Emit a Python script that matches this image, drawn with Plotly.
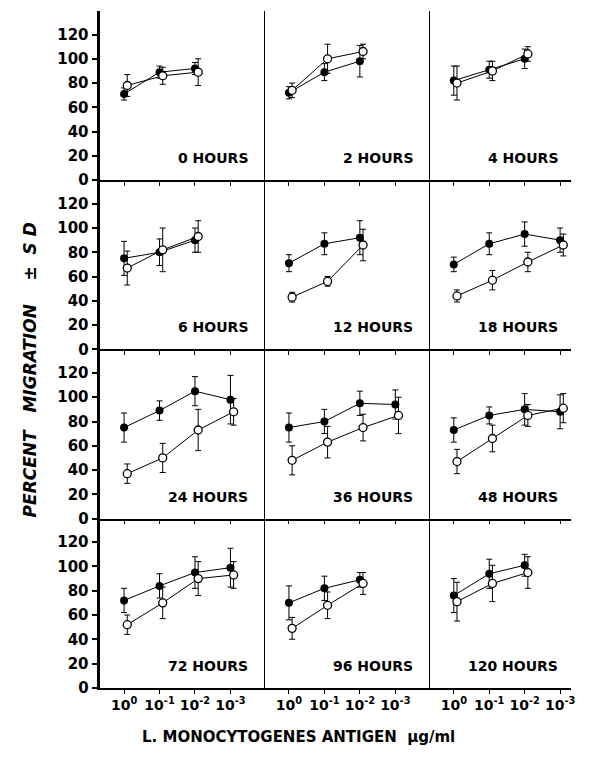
import plotly.graph_objects as go
from plotly.subplots import make_subplots

# ---------------- data ----------------
dose_positions = [0, 1, 2, 3]
dose_labels = ["10<sup>0</sup>", "10<sup>-1</sup>", "10<sup>-2</sup>", "10<sup>-3</sup>"]
y_ticks = [0, 20, 40, 60, 80, 100, 120]

panel_titles = ["0 HOURS", "2 HOURS", "4 HOURS",
                "6 HOURS", "12 HOURS", "18 HOURS",
                "24 HOURS", "36 HOURS", "48 HOURS",
                "72 HOURS", "96 HOURS", "120 HOURS"]

h0_filled = [71, 89, 92];        h0_filled_sd = [5, 5, 5]
h0_open = [78, 86, 89];          h0_open_sd = [9, 7, 11]
h2_filled = [72, 89, 98];        h2_filled_sd = [5, 7, 13]
h2_open = [74, 100, 106];        h2_open_sd = [6, 12, 6]
h4_filled = [82, 91, 100];       h4_filled_sd = [12, 7, 8]
h4_open = [80, 90, 104];         h4_open_sd = [14, 8, 6]
h6_filled = [75, 80, 90];        h6_filled_sd = [14, 11, 10]
h6_open = [67, 82, 93];          h6_open_sd = [14, 18, 13]
h12_filled = [71, 87, 92];       h12_filled_sd = [7, 9, 14]
h12_open = [43, 56, 86];         h12_open_sd = [4, 4, 13]
h18_filled = [70, 87, 95, 90];   h18_filled_sd = [6, 9, 10, 10]
h18_open = [44, 57, 72, 86];     h18_open_sd = [5, 8, 8, 9]
h24_filled = [75, 89, 105, 98];  h24_filled_sd = [12, 8, 12, 20]
h24_open = [37, 50, 73, 88];     h24_open_sd = [8, 12, 17, 11]
h36_filled = [75, 80, 95, 94];   h36_filled_sd = [12, 10, 10, 12]
h36_open = [48, 63, 75, 85];     h36_open_sd = [12, 13, 11, 15]
h48_filled = [73, 85, 90, 88];   h48_filled_sd = [10, 7, 13, 14]
h48_open = [47, 66, 85, 91];     h48_open_sd = [10, 11, 9, 12]
h72_filled = [72, 84, 95, 99];   h72_filled_sd = [10, 10, 13, 16]
h72_open = [52, 70, 90, 93];     h72_open_sd = [8, 13, 14, 11]
h96_filled = [70, 82, 89];       h96_filled_sd = [14, 10, 6]
h96_open = [49, 68, 86];         h96_open_sd = [9, 11, 9]
h120_filled = [76, 94, 101];     h120_filled_sd = [14, 12, 9]
h120_open = [71, 86, 95];        h120_open_sd = [16, 15, 13]

panels = [
    (h0_filled, h0_filled_sd, h0_open, h0_open_sd),
    (h2_filled, h2_filled_sd, h2_open, h2_open_sd),
    (h4_filled, h4_filled_sd, h4_open, h4_open_sd),
    (h6_filled, h6_filled_sd, h6_open, h6_open_sd),
    (h12_filled, h12_filled_sd, h12_open, h12_open_sd),
    (h18_filled, h18_filled_sd, h18_open, h18_open_sd),
    (h24_filled, h24_filled_sd, h24_open, h24_open_sd),
    (h36_filled, h36_filled_sd, h36_open, h36_open_sd),
    (h48_filled, h48_filled_sd, h48_open, h48_open_sd),
    (h72_filled, h72_filled_sd, h72_open, h72_open_sd),
    (h96_filled, h96_filled_sd, h96_open, h96_open_sd),
    (h120_filled, h120_filled_sd, h120_open, h120_open_sd),
]

# ---------------- layout geometry (pixels) ----------------
W, H = 589, 762
col_px = [(101, 267), (267, 433), (433, 575)]
row_top = 11.0
row_h = 171.25
x_ranges = [[-0.67, 3.98], [-0.67, 3.98], [-0.67, 3.31]]
y_range = [0, 139.5]
open_offset = 0.09
label_xfrac = [0.91, 0.91, 0.923]

FONT = "DejaVu Sans"

fig = make_subplots(rows=4, cols=3, horizontal_spacing=0, vertical_spacing=0)

for i, (fm, fs, om, osd) in enumerate(panels):
    r, c = i // 3 + 1, i % 3 + 1
    n = len(fm)
    xf = dose_positions[:n]
    xo = [p + open_offset for p in dose_positions[:n]]
    fig.add_trace(go.Scatter(
        x=xf, y=fm, mode="lines+markers",
        line=dict(color="black", width=1),
        marker=dict(symbol="circle", size=8, color="black"),
        error_y=dict(type="data", array=fs, visible=True, color="black",
                     thickness=1, width=3),
        showlegend=False, hoverinfo="skip"), row=r, col=c)
    fig.add_trace(go.Scatter(
        x=xo, y=om, mode="lines+markers",
        line=dict(color="black", width=1),
        marker=dict(symbol="circle", size=8, color="white",
                    line=dict(color="black", width=1.3)),
        error_y=dict(type="data", array=osd, visible=True, color="black",
                     thickness=1, width=3),
        showlegend=False, hoverinfo="skip"), row=r, col=c)

    x0p, x1p = col_px[c - 1]
    top = row_top + row_h * (r - 1)
    bot = top + row_h
    fig.update_xaxes(
        domain=[x0p / W, x1p / W], range=x_ranges[c - 1],
        tickvals=dose_positions, ticktext=dose_labels,
        showticklabels=(r == 4), ticks="outside", ticklen=4, tickwidth=1,
        tickcolor="black", showline=True, linecolor="black", linewidth=1.5,
        showgrid=False, zeroline=False,
        tickfont=dict(family=FONT, size=14, color="black", weight="bold"),
        row=r, col=c)
    if c == 1:
        fig.update_yaxes(
            domain=[1 - bot / H, 1 - top / H], range=y_range,
            tickvals=y_ticks, ticks="outside", ticklen=6, tickwidth=1.5,
            tickcolor="black", showline=True, linecolor="black", linewidth=2.5,
            showgrid=False, zeroline=False,
            tickfont=dict(family=FONT, size=15, color="black", weight="bold"),
            row=r, col=c)
    else:
        fig.update_yaxes(
            domain=[1 - bot / H, 1 - top / H], range=y_range,
            showticklabels=False, ticks="", showline=True,
            linecolor="black", linewidth=1,
            showgrid=False, zeroline=False, row=r, col=c)

    k = i + 1
    xref = "x domain" if k == 1 else f"x{k} domain"
    yref = "y" if k == 1 else f"y{k}"
    fig.add_annotation(
        x=label_xfrac[c - 1], y=18, xref=xref, yref=yref,
        text=panel_titles[i], showarrow=False, xanchor="right", yanchor="middle",
        font=dict(family=FONT, size=14, color="black", weight="bold"))

# axis titles
fig.add_annotation(
    x=30 / W, y=1 - 374 / H, xref="paper", yref="paper",
    xanchor="center", yanchor="middle",
    text="<i>PERCENT   MIGRATION    ±  S D</i>", textangle=-90, showarrow=False,
    font=dict(family=FONT, size=17, color="black", weight="bold"))
fig.add_annotation(
    x=301 / W, y=1 - 746 / H, xref="paper", yref="paper",
    xanchor="center", yanchor="middle",
    text="L. MONOCYTOGENES ANTIGEN  μg/ml", showarrow=False,
    font=dict(family=FONT, size=15, color="black", weight="bold"))

fig.update_layout(
    width=W, height=H, margin=dict(l=0, r=0, t=0, b=0),
    plot_bgcolor="white", paper_bgcolor="white", showlegend=False)

fig.write_html("out.html", config={"displayModeBar": False},
               post_script="document.body.style.margin='0px';document.body.style.overflow='hidden';")
